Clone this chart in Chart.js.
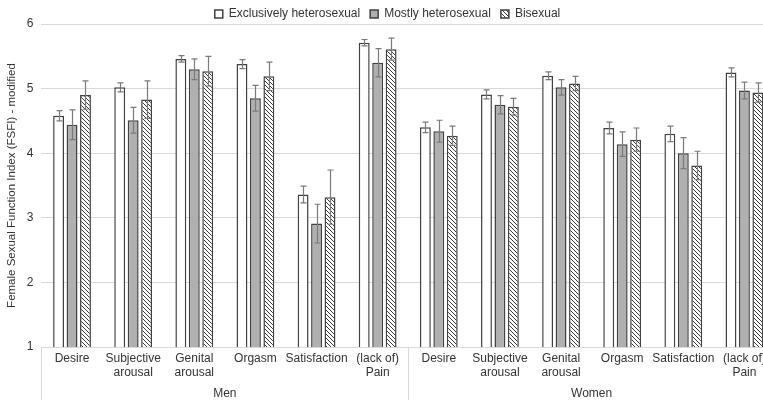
<!DOCTYPE html>
<html>
<head>
<meta charset="utf-8">
<script src="https://cdn.jsdelivr.net/npm/chart.js@4/dist/chart.umd.min.js"></script>
<style>
  html, body { margin: 0; padding: 0; background: #fff; overflow: hidden; }
  #wrap { width: 775px; height: 405px; }
</style>
</head>
<body>
<div id="wrap"><canvas id="fsfiChart"></canvas></div>
<script>
// categories (two levels)
var categories = [
    ['Desire'], ['Subjective', 'arousal'], ['Genital', 'arousal'], ['Orgasm'], ['Satisfaction'], ['(lack of)', 'Pain'],
    ['Desire'], ['Subjective', 'arousal'], ['Genital', 'arousal'], ['Orgasm'], ['Satisfaction'], ['(lack of)', 'Pain']
];
var groups = ['Men', 'Women'];
var seriesNames = ['Exclusively heterosexual', 'Mostly heterosexual', 'Bisexual'];

// mean scores
var exclusively = [4.58, 5.02, 5.46, 5.38, 3.36, 5.71, 4.40, 4.91, 5.20, 4.39, 4.30, 5.25];
var mostly      = [4.44, 4.51, 5.30, 4.85, 2.91, 5.40, 4.34, 4.75, 5.02, 4.14, 4.00, 4.97];
var bisexual    = [4.90, 4.83, 5.27, 5.19, 3.32, 5.61, 4.27, 4.72, 5.08, 4.21, 3.81, 4.94];

// error bar half-widths
var exclusivelyErr = [0.08, 0.07, 0.05, 0.07, 0.13, 0.05, 0.08, 0.07, 0.06, 0.09, 0.12, 0.07];
var mostlyErr      = [0.23, 0.20, 0.16, 0.20, 0.30, 0.22, 0.17, 0.14, 0.12, 0.19, 0.24, 0.13];
var bisexualErr    = [0.22, 0.29, 0.23, 0.22, 0.42, 0.17, 0.15, 0.13, 0.11, 0.18, 0.22, 0.15];

var yTicks = [1, 2, 3, 4, 5, 6];

var textColor = '#333333';
var edgeColor = '#404040';
var gridColor = '#d9d9d9';

// diagonal hatching for the bisexual series
function makeHatch() {
    var c = document.createElement('canvas');
    c.width = 4; c.height = 4;
    var g = c.getContext('2d');
    g.fillStyle = '#ffffff';
    g.fillRect(0, 0, 4, 4);
    g.strokeStyle = '#3a3a3a';
    g.lineWidth = 1;
    g.beginPath();
    g.moveTo(0, 0); g.lineTo(4, 4);
    g.moveTo(-1, 3); g.lineTo(1, 5);
    g.moveTo(3, -1); g.lineTo(5, 1);
    g.stroke();
    return g.createPattern(c, 'repeat');
}

var errorBars = {
    id: 'errorBars',
    afterDatasetsDraw: function(chart) {
        var ctx = chart.ctx;
        var y = chart.scales.y;
        ctx.save();
        ctx.strokeStyle = '#7a7a7a';
        ctx.lineWidth = 1.2;
        chart.data.datasets.forEach(function(ds, di) {
            var meta = chart.getDatasetMeta(di);
            meta.data.forEach(function(bar, i) {
                var v = ds.data[i], e = ds.errors[i];
                var top = y.getPixelForValue(v + e);
                var bot = y.getPixelForValue(v - e);
                var x = Math.round(bar.x) + 0.5;
                ctx.beginPath();
                ctx.moveTo(x, top); ctx.lineTo(x, bot);
                ctx.moveTo(x - 3, top); ctx.lineTo(x + 3, top);
                ctx.moveTo(x - 3, bot); ctx.lineTo(x + 3, bot);
                ctx.stroke();
            });
        });
        ctx.restore();
    }
};

var groupSeparators = {
    id: 'groupSeparators',
    afterDraw: function(chart) {
        var ctx = chart.ctx;
        var x = chart.scales.x;
        var per = categories.length / groups.length;
        ctx.save();
        ctx.strokeStyle = gridColor;
        ctx.lineWidth = 1;
        for (var k = 0; k <= groups.length; k++) {
            var px = Math.round(x.getPixelForValue(k * per - 0.5)) + 0.5;
            ctx.beginPath();
            ctx.moveTo(px, chart.chartArea.bottom);
            ctx.lineTo(px, 400);
            ctx.stroke();
        }
        ctx.restore();
    }
};

// keep the legend's spacing between items but trim the gap under it
var tightLegend = {
    id: 'tightLegend',
    beforeLayout: function(chart) {
        var lg = chart.legend;
        if (lg && !lg._tight) {
            var fit = lg.fit;
            lg.fit = function() {
                fit.call(this);
                this.height -= 6;
            };
            lg._tight = true;
        }
    }
};

var hatch = makeHatch();

var ctx = document.getElementById('fsfiChart').getContext('2d');
var fsfiChart = new Chart(ctx, {
    type: 'bar',
    data: {
        labels: categories,
        datasets: [{
            label: seriesNames[0],
            data: exclusively,
            errors: exclusivelyErr,
            backgroundColor: '#ffffff',
            borderColor: edgeColor,
            borderWidth: 1.5
        }, {
            label: seriesNames[1],
            data: mostly,
            errors: mostlyErr,
            backgroundColor: '#b0b0b0',
            borderColor: edgeColor,
            borderWidth: 1.5
        }, {
            label: seriesNames[2],
            data: bisexual,
            errors: bisexualErr,
            backgroundColor: hatch,
            borderColor: edgeColor,
            borderWidth: 1.5
        }]
    },
    options: {
        responsive: true,
        maintainAspectRatio: false,
        animation: false,
        layout: { padding: { top: -2, right: 0, left: 0, bottom: 2 } },
        datasets: { bar: { categoryPercentage: 0.66, barPercentage: 0.81 } },
        plugins: {
            tooltip: { enabled: false },
            legend: {
                position: 'top',
                labels: {
                    color: textColor,
                    font: { family: 'Liberation Sans', size: 12 },
                    boxWidth: 8,
                    boxHeight: 8,
                    padding: 10
                }
            }
        },
        scales: {
            x: {
                grid: { display: false, drawTicks: false },
                border: { display: false },
                ticks: {
                    color: textColor,
                    font: { family: 'Liberation Sans', size: 12, lineHeight: 1.15 },
                    maxRotation: 0,
                    autoSkip: false,
                    padding: 5
                }
            },
            x2: {
                type: 'category',
                labels: groups,
                position: 'bottom',
                offset: true,
                grid: { display: false, drawTicks: false },
                border: { display: false },
                ticks: {
                    color: textColor,
                    font: { family: 'Liberation Sans', size: 12 },
                    padding: 2
                }
            },
            y: {
                min: yTicks[0],
                max: yTicks[yTicks.length - 1],
                afterBuildTicks: function(axis) {
                    axis.ticks = yTicks.map(function(v) { return { value: v }; });
                },
                grid: { color: gridColor, drawTicks: false },
                border: { display: false },
                ticks: {
                    color: textColor,
                    font: { family: 'Liberation Sans', size: 12 },
                    padding: 8
                },
                title: {
                    display: true,
                    text: 'Female Sexual Function Index (FSFI) - modified',
                    color: textColor,
                    font: { family: 'Liberation Sans', size: 11.5 },
                    padding: { top: 5, bottom: 0 }
                }
            }
        }
    },
    plugins: [errorBars, groupSeparators, tightLegend]
});
</script>
</body>
</html>
